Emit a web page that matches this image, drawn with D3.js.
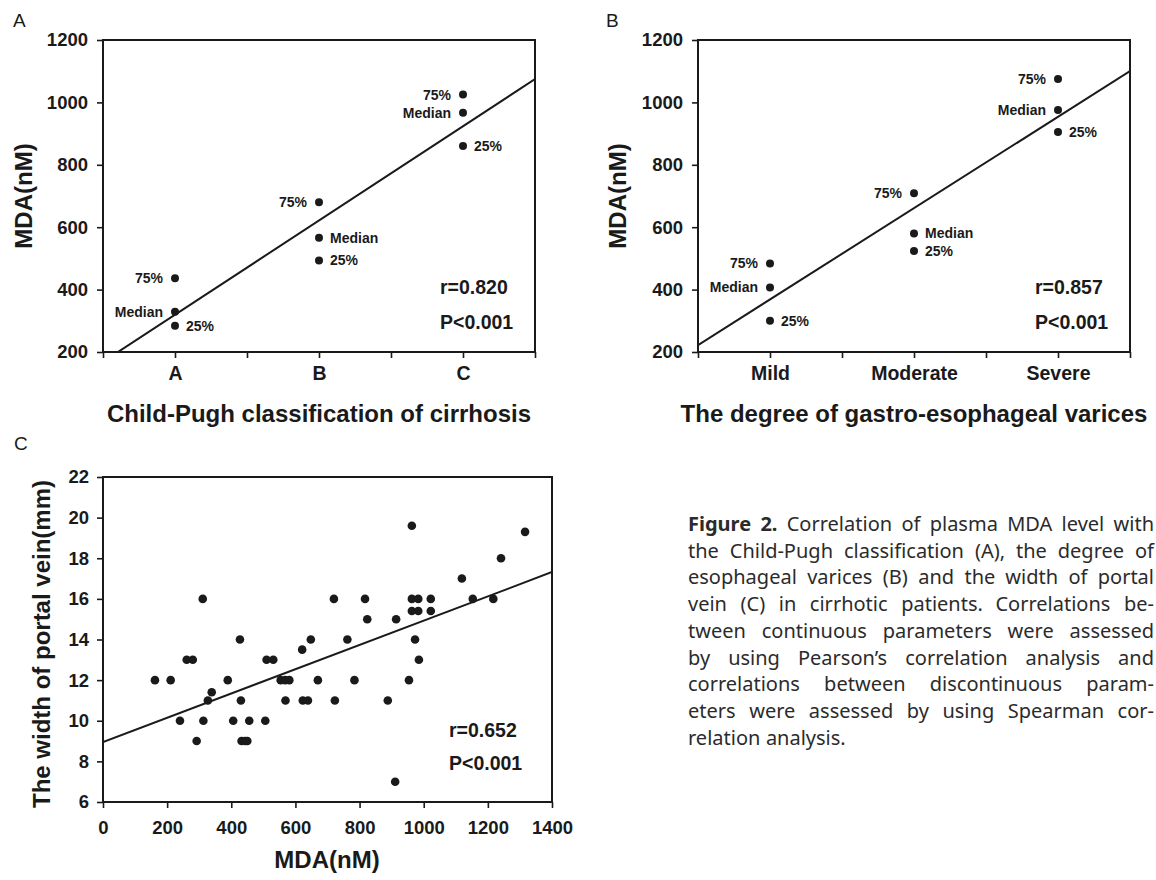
<!DOCTYPE html>
<html>
<head>
<meta charset="utf-8">
<script src="https://cdn.jsdelivr.net/npm/d3@7"></script>
<style>
  body { margin: 0; background: #fff; }
  svg text { font-family: "Liberation Sans", Arial, sans-serif; fill: #1a1a1a; }
  .caption text { font-family: "Noto Sans", "Open Sans", sans-serif; fill: #2b2b2b; }
</style>
</head>
<body>
<svg id="fig" width="1156" height="880"></svg>
<script>
// Panel A: MDA (nM) quartiles by Child-Pugh class
const childPughCategories = ["A", "B", "C"];
const childPughQ75 = [436, 680, 1025];
const childPughMedian = [329, 566, 967];
const childPughQ25 = [284, 493, 860];
const childPughFit = [17.6, 302];      // intercept, slope over category position 1..3
const childPughStats = ["r=0.820", "P<0.001"];

// Panel B: MDA (nM) quartiles by degree of varices
const varicesCategories = ["Mild", "Moderate", "Severe"];
const varicesQ75 = [484, 709, 1075];
const varicesMedian = [407, 580, 976];
const varicesQ25 = [300, 524, 905];
const varicesFit = [75.7, 292.7];
const varicesStats = ["r=0.857", "P<0.001"];

const quantileLabels = ["75%", "Median", "25%"];
const mdaTicks = [200, 400, 600, 800, 1000, 1200];

// Panel C: MDA vs width of portal vein
const portalMDA = [963, 1316, 1241, 1119,
  311, 720, 817, 963, 983, 1022, 1153, 1217,
  963, 983, 1022,
  824, 914,
  427, 648, 762, 973,
  621,
  261, 280, 510, 531, 985,
  162, 211, 389, 554, 568, 581, 670, 784, 954,
  339,
  327, 430, 569, 623, 639, 723, 888,
  240, 313, 406, 456, 506,
  292, 432, 443, 450,
  911];
const portalWidth = [19.6, 19.3, 18, 17,
  16, 16, 16, 16, 16, 16, 16, 16,
  15.4, 15.4, 15.4,
  15, 15,
  14, 14, 14, 14,
  13.5,
  13, 13, 13, 13, 13,
  12, 12, 12, 12, 12, 12, 12, 12, 12,
  11.4,
  11, 11, 11, 11, 11, 11, 11,
  10, 10, 10, 10, 10,
  9, 9, 9, 9,
  7];
const portalFit = [8.95, 0.005979];
const portalStats = ["r=0.652", "P<0.001"];
const portalXTicks = [0, 200, 400, 600, 800, 1000, 1200, 1400];
const portalYTicks = [6, 8, 10, 12, 14, 16, 18, 20, 22];

const captionLines = [
  "Figure 2. Correlation of plasma MDA level with",
  "the Child-Pugh classification (A), the degree of",
  "esophageal varices (B) and the width of portal",
  "vein (C) in cirrhotic patients. Correlations be-",
  "tween continuous parameters were assessed",
  "by using Pearson\u2019s correlation analysis and",
  "correlations between discontinuous param-",
  "eters were assessed by using Spearman cor-",
  "relation analysis."
];

const ink = "#1a1a1a";
const plain = d3.format("d");
const svg = d3.select("#fig");
svg.append("rect").attr("width", 1156).attr("height", 880).attr("fill", "#fff");

function styleAxis(sel, size) {
  sel.attr("font-family", null);
  sel.select(".domain").remove();
  sel.selectAll(".tick line").attr("stroke", ink).attr("stroke-width", 1.6);
  sel.selectAll(".tick text")
    .attr("fill", ink)
    .style("font-family", '"Liberation Sans", Arial, sans-serif')
    .style("font-size", size + "px")
    .style("font-weight", "bold");
}

function addFrame(g, x, y) {
  const [x0, x1] = x.range(), [y0, y1] = y.range();
  g.append("rect")
    .attr("x", x0).attr("y", y1)
    .attr("width", x1 - x0).attr("height", y0 - y1)
    .attr("fill", "none").attr("stroke", ink).attr("stroke-width", 2);
}

function addFitLine(g, x, y, fit, id) {
  const [x0, x1] = x.range(), [y0, y1] = y.range();
  g.append("clipPath").attr("id", id).append("rect")
    .attr("x", x0).attr("y", y1).attr("width", x1 - x0).attr("height", y0 - y1);
  const dom = x.domain();
  g.append("path")
    .datum(dom)
    .attr("clip-path", `url(#${id})`)
    .attr("fill", "none").attr("stroke", ink).attr("stroke-width", 2)
    .attr("d", d3.line().x(d => x(d)).y(d => y(fit[0] + fit[1] * d)));
}

function addStats(g, lines, xLeft, yR, yP) {
  g.selectAll(".stat").data(lines).join("text")
    .attr("x", xLeft)
    .attr("y", (d, i) => i === 0 ? yR : yP)
    .attr("dy", "0.35em")
    .style("font-size", "19.5px").style("font-weight", "bold")
    .text(d => d);
}

function categoryPanel(p) {
  const g = svg.append("g");
  const x = d3.scaleLinear().domain([0.5, 3.5]).range([p.left, p.right]);
  const y = d3.scaleLinear().domain([200, 1200]).range([p.bottom, p.top]);

  g.append("g").attr("transform", `translate(${p.left},0)`)
    .call(d3.axisLeft(y).tickValues(mdaTicks).tickSize(6).tickPadding(9).tickFormat(plain))
    .call(styleAxis, 18.5);
  g.append("g").attr("transform", `translate(0,${p.bottom})`)
    .call(d3.axisBottom(x).tickValues(d3.range(0.5, 3.51, 0.5)).tickSize(6).tickPadding(8)
      .tickFormat(v => Number.isInteger(v) ? p.categories[v - 1] : ""))
    .call(styleAxis, 19.5);

  addFitLine(g, x, y, p.fit, "clip" + p.letter);
  addFrame(g, x, y);

  const series = [p.q75, p.median, p.q25];
  const pts = [];
  series.forEach((vals, s) => vals.forEach((v, i) => {
    // 25% labels sit right of the dot, 75% left; medians left except the middle class
    const right = s === 2 || (s === 1 && i === 1);
    pts.push({ pos: i + 1, value: v, label: quantileLabels[s], right });
  }));

  g.selectAll(".pt").data(pts).join("circle")
    .attr("cx", d => x(d.pos)).attr("cy", d => y(d.value))
    .attr("r", 4).attr("fill", ink);
  g.selectAll(".pl").data(pts).join("text")
    .attr("x", d => x(d.pos) + (d.right ? 11 : -12))
    .attr("y", d => y(d.value))
    .attr("dy", "0.35em")
    .attr("text-anchor", d => d.right ? "start" : "end")
    .style("font-size", "14px").style("font-weight", "bold")
    .text(d => d.label);

  addStats(g, p.stats, p.right - 95, p.bottom - 65, p.bottom - 30);

  g.append("text")
    .attr("transform", `translate(${p.yTitleX},${(p.top + p.bottom) / 2}) rotate(-90)`)
    .attr("text-anchor", "middle").attr("dy", "0.35em")
    .style("font-size", "24px").style("font-weight", "bold")
    .text("MDA(nM)");
  g.append("text")
    .attr("x", (p.left + p.right) / 2).attr("y", 422)
    .attr("text-anchor", "middle")
    .style("font-size", "24px").style("font-weight", "bold")
    .text(p.xTitle);
  g.append("text")
    .attr("x", p.letterX).attr("y", 27)
    .style("font-size", "19px")
    .text(p.letter);
}

categoryPanel({
  letter: "A", letterX: 13, left: 103, right: 535, top: 40, bottom: 352, yTitleX: 24,
  categories: childPughCategories, q75: childPughQ75, median: childPughMedian, q25: childPughQ25,
  fit: childPughFit, stats: childPughStats,
  xTitle: "Child-Pugh classification of cirrhosis"
});

categoryPanel({
  letter: "B", letterX: 606, left: 698, right: 1130, top: 40, bottom: 352, yTitleX: 618,
  categories: varicesCategories, q75: varicesQ75, median: varicesMedian, q25: varicesQ25,
  fit: varicesFit, stats: varicesStats,
  xTitle: "The degree of gastro-esophageal varices"
});

// Panel C scatter
(function () {
  const g = svg.append("g");
  const x = d3.scaleLinear().domain([0, 1400]).range([103, 552]);
  const y = d3.scaleLinear().domain([6, 22]).range([802, 477]);

  g.append("g").attr("transform", "translate(103,0)")
    .call(d3.axisLeft(y).tickValues(portalYTicks).tickSize(6).tickPadding(8).tickFormat(plain))
    .call(styleAxis, 18.5);
  g.append("g").attr("transform", "translate(0,802)")
    .call(d3.axisBottom(x).tickValues(portalXTicks).tickSize(6).tickPadding(13).tickFormat(plain))
    .call(styleAxis, 18.5);

  addFitLine(g, x, y, portalFit, "clipC");
  addFrame(g, x, y);

  g.selectAll(".dot").data(portalMDA).join("circle")
    .attr("cx", d => x(d)).attr("cy", (d, i) => y(portalWidth[i]))
    .attr("r", 4.3).attr("fill", ink);

  addStats(g, portalStats, 449, 730, 763);

  g.append("text")
    .attr("transform", "translate(42,644) rotate(-90)")
    .attr("text-anchor", "middle").attr("dy", "0.35em")
    .style("font-size", "24px").style("font-weight", "bold")
    .text("The width of portal vein(mm)");
  g.append("text")
    .attr("x", 327).attr("y", 868)
    .attr("text-anchor", "middle")
    .style("font-size", "24px").style("font-weight", "bold")
    .text("MDA(nM)");
  g.append("text")
    .attr("x", 14).attr("y", 450)
    .style("font-size", "19px")
    .text("C");
})();

// Caption, justified by hand
(function () {
  const cap = svg.append("g").attr("class", "caption");
  const left = 688, right = 1154, top = 531, lead = 26.7;
  captionLines.forEach((line, li) => {
    const words = line.split(" ");
    const t = cap.append("text").attr("y", top + li * lead).style("font-size", "20px");
    const spans = words.map((w, wi) => t.append("tspan")
      .style("font-weight", li === 0 && wi < 2 ? "bold" : "normal")
      .text(w));
    const widths = spans.map(s => s.node().getComputedTextLength());
    const total = d3.sum(widths);
    const last = li === captionLines.length - 1;
    const gap = last ? 5.5 : (right - left - total) / (words.length - 1);
    let cx = left;
    spans.forEach((s, i) => {
      s.attr("x", cx);
      cx += widths[i] + gap;
    });
  });
})();
</script>
</body>
</html>
